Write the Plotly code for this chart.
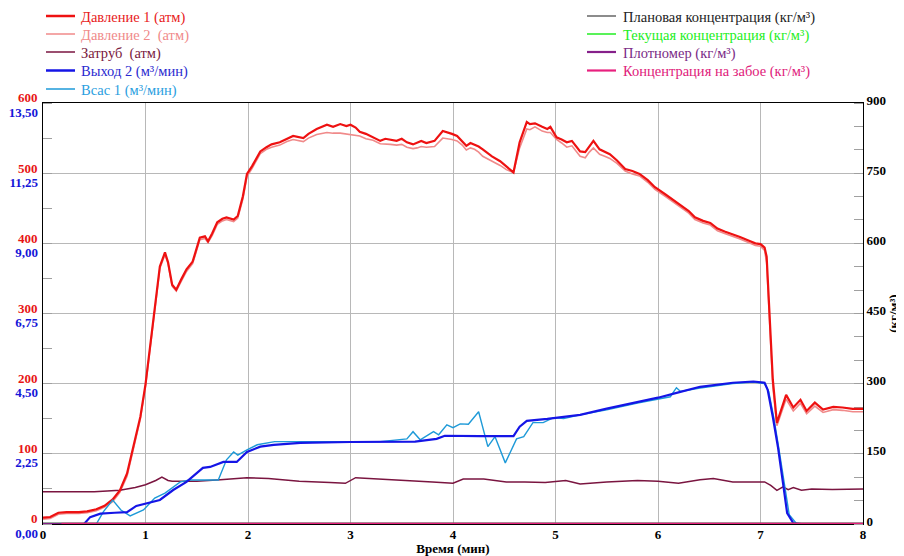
import plotly.graph_objects as go

# ---------------- data ----------------
time_p = [0.00, 0.07, 0.15, 0.23, 0.35, 0.43, 0.52, 0.60, 0.68, 0.75, 0.82, 0.88, 0.95, 1.00,
          1.05, 1.09, 1.14, 1.19, 1.22, 1.26, 1.30, 1.35, 1.40, 1.46, 1.50, 1.53, 1.58, 1.61,
          1.65, 1.70, 1.75, 1.79, 1.86, 1.90, 1.95, 1.99, 2.04, 2.12, 2.18, 2.23, 2.31, 2.38,
          2.44, 2.54, 2.59, 2.67, 2.77, 2.83, 2.90, 2.96, 3.00, 3.05, 3.09, 3.15, 3.22, 3.29,
          3.34, 3.39, 3.45, 3.50, 3.55, 3.61, 3.65, 3.69, 3.74, 3.82, 3.90, 3.95, 3.99, 4.04,
          4.09, 4.13, 4.17, 4.21, 4.25, 4.29, 4.38, 4.46, 4.52, 4.59, 4.65, 4.72, 4.75, 4.80,
          4.87, 4.92, 4.95, 5.01, 5.06, 5.11, 5.16, 5.24, 5.29, 5.33, 5.37, 5.43, 5.48, 5.53,
          5.60, 5.68, 5.75, 5.82, 5.90, 5.97, 6.07, 6.14, 6.21, 6.30, 6.36, 6.44, 6.51, 6.58,
          6.65, 6.73, 6.80, 6.90, 6.95, 7.00, 7.04, 7.06, 7.09, 7.12, 7.16, 7.21, 7.25, 7.32,
          7.39, 7.45, 7.53, 7.61, 7.71, 7.80, 7.90, 8.00]
pressure_1 = [9, 10, 16, 17, 17, 18, 21, 26, 35, 48, 72, 110, 153, 199,
              259, 310, 367, 387, 373, 341, 334, 349, 363, 374, 395, 408, 410, 403,
              414, 430, 435, 437, 434, 439, 467, 499, 510, 531, 537, 541, 544, 549,
              553, 550, 556, 563, 569, 566, 570, 567, 569, 565, 559, 556, 551, 546,
              549, 548, 546, 549, 544, 541, 544, 546, 543, 546, 560, 558, 556, 553,
              545, 539, 543, 541, 538, 534, 524, 517, 509, 501, 544, 573, 570, 571,
              566, 563, 566, 551, 548, 544, 546, 531, 530, 538, 546, 534, 531, 527,
              518, 506, 503, 499, 490, 480, 470, 463, 456, 446, 437, 432, 429, 421,
              417, 413, 409, 403, 400, 399, 394, 381, 301, 206, 144, 167, 184, 166,
              177, 161, 173, 163, 167, 166, 164, 164]
pressure_2 = [7, 8, 14, 15, 15, 16, 19, 24, 32, 45, 68, 106, 150, 196,
              256, 307, 364, 384, 371, 339, 332, 346, 360, 371, 392, 405, 407, 401,
              411, 427, 432, 434, 431, 436, 463, 495, 507, 528, 534, 537, 540, 545,
              548, 545, 550, 555, 558, 557, 557, 556, 555, 554, 553, 549, 547, 542,
              542, 541, 540, 541, 537, 535, 536, 538, 537, 538, 550, 549, 548, 546,
              540, 533, 536, 534, 530, 524, 517, 511, 505, 501, 536, 563, 562, 566,
              560, 558, 558, 548, 543, 537, 539, 524, 522, 530, 536, 527, 524, 521,
              514, 503, 499, 496, 487, 477, 467, 460, 453, 443, 434, 429, 426, 418,
              414, 410, 406, 400, 397, 396, 390, 372, 290, 196, 140, 160, 178, 161,
              172, 157, 168, 159, 163, 162, 160, 160]

time_z = [0.00, 0.50, 0.75, 0.90, 1.00, 1.10, 1.16, 1.22, 1.26, 1.50, 1.73, 1.99, 2.20, 2.50,
          2.80, 2.95, 3.05, 3.20, 3.29, 3.60, 3.80, 4.00, 4.10, 4.30, 4.52, 4.70, 4.90, 5.10,
          5.24, 5.50, 5.80, 6.00, 6.20, 6.41, 6.54, 6.73, 7.04, 7.10, 7.16, 7.22, 7.27, 7.32,
          7.40, 7.50, 7.70, 8.00]
zatrub = [46, 46, 48, 52, 56, 62, 67, 62, 61, 61, 63, 66, 65, 61,
          59, 58, 66, 65, 64, 62, 60, 58, 64, 64, 60, 60, 59, 62,
          57, 60, 62, 61, 58, 63, 65, 60, 60, 55, 48, 53, 49, 52,
          48, 50, 49, 50]

time_q2 = [0.00, 0.40, 0.46, 0.56, 0.70, 0.82, 0.91, 1.01, 1.14, 1.27, 1.40, 1.56, 1.63, 1.76,
           1.89, 1.99, 2.12, 2.25, 2.51, 3.00, 3.29, 3.63, 3.84, 3.92, 4.26, 4.59, 4.65, 4.72,
           4.92, 5.24, 5.50, 5.80, 6.00, 6.20, 6.41, 6.73, 6.93, 7.04, 7.07, 7.12, 7.17, 7.22,
           7.26, 7.32, 7.40, 8.00]
outlet_2 = [0.00, 0.00, 0.22, 0.33, 0.36, 0.38, 0.58, 0.67, 0.77, 1.09, 1.35, 1.80, 1.83, 1.99,
            1.99, 2.31, 2.48, 2.54, 2.60, 2.63, 2.64, 2.64, 2.73, 2.83, 2.82, 2.82, 3.12, 3.31,
            3.37, 3.50, 3.70, 3.90, 4.05, 4.22, 4.40, 4.53, 4.57, 4.53, 4.30, 3.44, 2.47, 1.30,
            0.35, 0.03, 0.00, 0.00]

time_q1 = [0.00, 0.52, 0.59, 0.68, 0.76, 0.85, 0.98, 1.09, 1.19, 1.34, 1.43, 1.71, 1.79, 1.86,
           1.90, 1.99, 2.09, 2.26, 3.29, 3.55, 3.61, 3.68, 3.81, 3.86, 3.94, 4.00, 4.07, 4.15,
           4.25, 4.34, 4.41, 4.51, 4.62, 4.69, 4.78, 4.88, 4.98, 5.08, 5.24, 5.50, 5.80, 6.00,
           6.12, 6.18, 6.22, 6.41, 6.73, 6.93, 7.04, 7.08, 7.13, 7.18, 7.24, 7.28, 7.35, 7.40, 8.00]
suction_1 = [0.00, 0.00, 0.40, 0.77, 0.45, 0.26, 0.45, 0.83, 0.99, 1.35, 1.41, 1.41, 2.06, 2.31,
             2.21, 2.38, 2.54, 2.64, 2.64, 2.73, 2.96, 2.70, 2.96, 2.86, 3.18, 3.09, 3.21, 3.20,
             3.60, 2.48, 2.80, 1.96, 2.73, 2.80, 3.25, 3.25, 3.41, 3.38, 3.50, 3.66, 3.88, 4.00,
             4.08, 4.37, 4.25, 4.36, 4.50, 4.55, 4.50, 4.25, 3.40, 2.40, 1.10, 0.30, 0.02, 0.00, 0.00]

time_c = [0.0, 8.0]
conc_plan = [0, 0]
conc_current = [0, 0]
densitometer = [0, 0]
time_cb = [0.18, 8.0]
conc_bottom = [0, 0]

p_ticks = [0, 100, 200, 300, 400, 500, 600]
q_ticks = [0, 2.25, 4.5, 6.75, 9.0, 11.25, 13.5]
q_tick_labels = ["0,00", "2,25", "4,50", "6,75", "9,00", "11,25", "13,50"]
c_ticks = [0, 150, 300, 450, 600, 750, 900]
x_ticks = [0, 1, 2, 3, 4, 5, 6, 7, 8]

# ---------------- styles ----------------
RED = "#ee1111"
PINK = "#f08a8a"
MAROON = "#7a1540"
BLUE = "#1515e6"
LBLUE = "#1e9ad8"
GREY = "#404040"
GREEN = "#22ee22"
PURPLE = "#86208a"
MAGENTA = "#e8207e"
SERIF = "Liberation Serif"

# the page body adds an 8px margin, so the figure is 8px smaller than the window
OFF = 8
W, H = 904 - OFF, 556 - OFF
PL, PR, PT, PB = 43, 863, 103, 524          # plot box in window pixels
ML, MR, MT, MB = PL - OFF, W + OFF - PR, PT - OFF, H + OFF - PB
PW, PH = PR - PL, PB - PT


def px_x(px):
    return (px - PL) / PW


def px_y(py):
    return (PB - py) / PH


fig = go.Figure()

left_series = [
    (time_p, pressure_2, PINK, 1.6, "y"),
    (time_z, zatrub, MAROON, 1.5, "y"),
    (time_q1, suction_1, LBLUE, 1.4, "y2"),
    (time_q2, outlet_2, BLUE, 2.2, "y2"),
    (time_p, pressure_1, RED, 2.2, "y"),
]
for x, y, col, w, ax in left_series:
    fig.add_trace(go.Scatter(x=x, y=y, mode="lines",
                             line=dict(color=col, width=w), yaxis=ax,
                             showlegend=False, hoverinfo="skip"))

right_series = [
    (time_c, conc_plan, GREY),
    (time_c, conc_current, GREEN),
    (time_c, densitometer, PURPLE),
    (time_cb, conc_bottom, MAGENTA),
]
for x, y, col in right_series:
    fig.add_trace(go.Scatter(x=x, y=y, mode="lines",
                             line=dict(color=col, width=2.5), yaxis="y3",
                             showlegend=False, hoverinfo="skip"))

# ---------------- legends (line samples + coloured text) ----------------
left_legend = [
    ("Давление 1 (атм)", RED, "#e81a1a", 2.5),
    ("Давление 2  (атм)", PINK, "#f08a8a", 1.5),
    ("Затруб  (атм)", MAROON, "#7a1a40", 1.5),
    ("Выход 2 (м³/мин)", BLUE, "#2a2ad0", 2.5),
    ("Всас 1 (м³/мин)", LBLUE, "#2a9ee0", 1.5),
]
right_legend = [
    ("Плановая концентрация (кг/м³)", GREY, "#222222", 1.2),
    ("Текущая концентрация (кг/м³)", GREEN, "#22ee22", 1.5),
    ("Плотномер (кг/м³)", PURPLE, "#7a2a86", 2.2),
    ("Концентрация на забое (кг/м³)", MAGENTA, "#e0207a", 2.2),
]
shapes = []
annotations = []
rows = [16, 34, 52, 70.5, 89]
for (lx0, lx1, tx, items) in [(46, 75, 79, left_legend), (587, 616, 621, right_legend)]:
    for i, (name, lc, tc, lw) in enumerate(items):
        yy = rows[i]
        shapes.append(dict(type="line", xref="paper", yref="paper",
                           x0=px_x(lx0), x1=px_x(lx1), y0=px_y(yy), y1=px_y(yy),
                           line=dict(color=lc, width=lw)))
        annotations.append(dict(xref="paper", yref="paper", x=px_x(tx), y=px_y(yy + 1.5),
                                xanchor="left", yanchor="middle", showarrow=False,
                                text=name, font=dict(family=SERIF, size=14.5, color=tc)))

fig.update_layout(
    width=W, height=H,
    margin=dict(l=ML, r=MR, t=MT, b=MB, autoexpand=False),
    paper_bgcolor="white", plot_bgcolor="white",
    font=dict(family=SERIF, size=13, color="black"),
    showlegend=False,
    shapes=shapes, annotations=annotations,
    xaxis=dict(range=[0, 8], tickvals=x_ticks, ticktext=[str(v) for v in x_ticks],
               showgrid=True, gridcolor="#b8b8b8", gridwidth=1,
               showline=True, linecolor="black", linewidth=1, mirror=True,
               ticks="", zeroline=False, layer="below traces", ticklabelstandoff=-2,
               tickfont=dict(family=SERIF, size=13, weight="bold"),
               title=dict(text="Время (мин)", standoff=4,
                          font=dict(family=SERIF, size=13, weight="bold"))),
    yaxis=dict(range=[0, 600], tickvals=p_ticks, ticktext=[str(v) for v in p_ticks],
               ticklabelposition="outside top", ticklabelstandoff=2, ticklabelshift=4,
               showgrid=True, gridcolor="#b8b8b8", gridwidth=1,
               showline=True, linecolor="black", linewidth=1,
               ticks="", zeroline=False, layer="below traces",
               tickfont=dict(family=SERIF, size=13, weight="bold", color="#e81515"),
               minor=dict(dtick=50, ticks="inside", ticklen=9, tickcolor="#a0a0a0",
                          showgrid=False)),
    yaxis2=dict(range=[0, 13.5], overlaying="y", side="left", tickvals=q_ticks,
                ticktext=q_tick_labels, ticklabelposition="outside bottom",
                ticklabelshift=0, ticklabelstandoff=4,
                showgrid=False, showline=False, ticks="", zeroline=False,
                tickfont=dict(family=SERIF, size=13, weight="bold", color="#1515d8")),
    yaxis3=dict(range=[0, 900], overlaying="y", side="right", tickvals=c_ticks,
                showgrid=False, showline=True, linecolor="black", linewidth=1,
                ticks="", zeroline=False, layer="below traces", ticklabelshift=-3,
                tickfont=dict(family=SERIF, size=13, weight="bold", color="black"),
                minor=dict(dtick=50, ticks="inside", ticklen=9, tickcolor="#a0a0a0",
                           showgrid=False),
                title=dict(text="(кг/м³)", standoff=0,
                           font=dict(family=SERIF, size=13, weight="bold"))),
)

fig.write_html("out.html")
